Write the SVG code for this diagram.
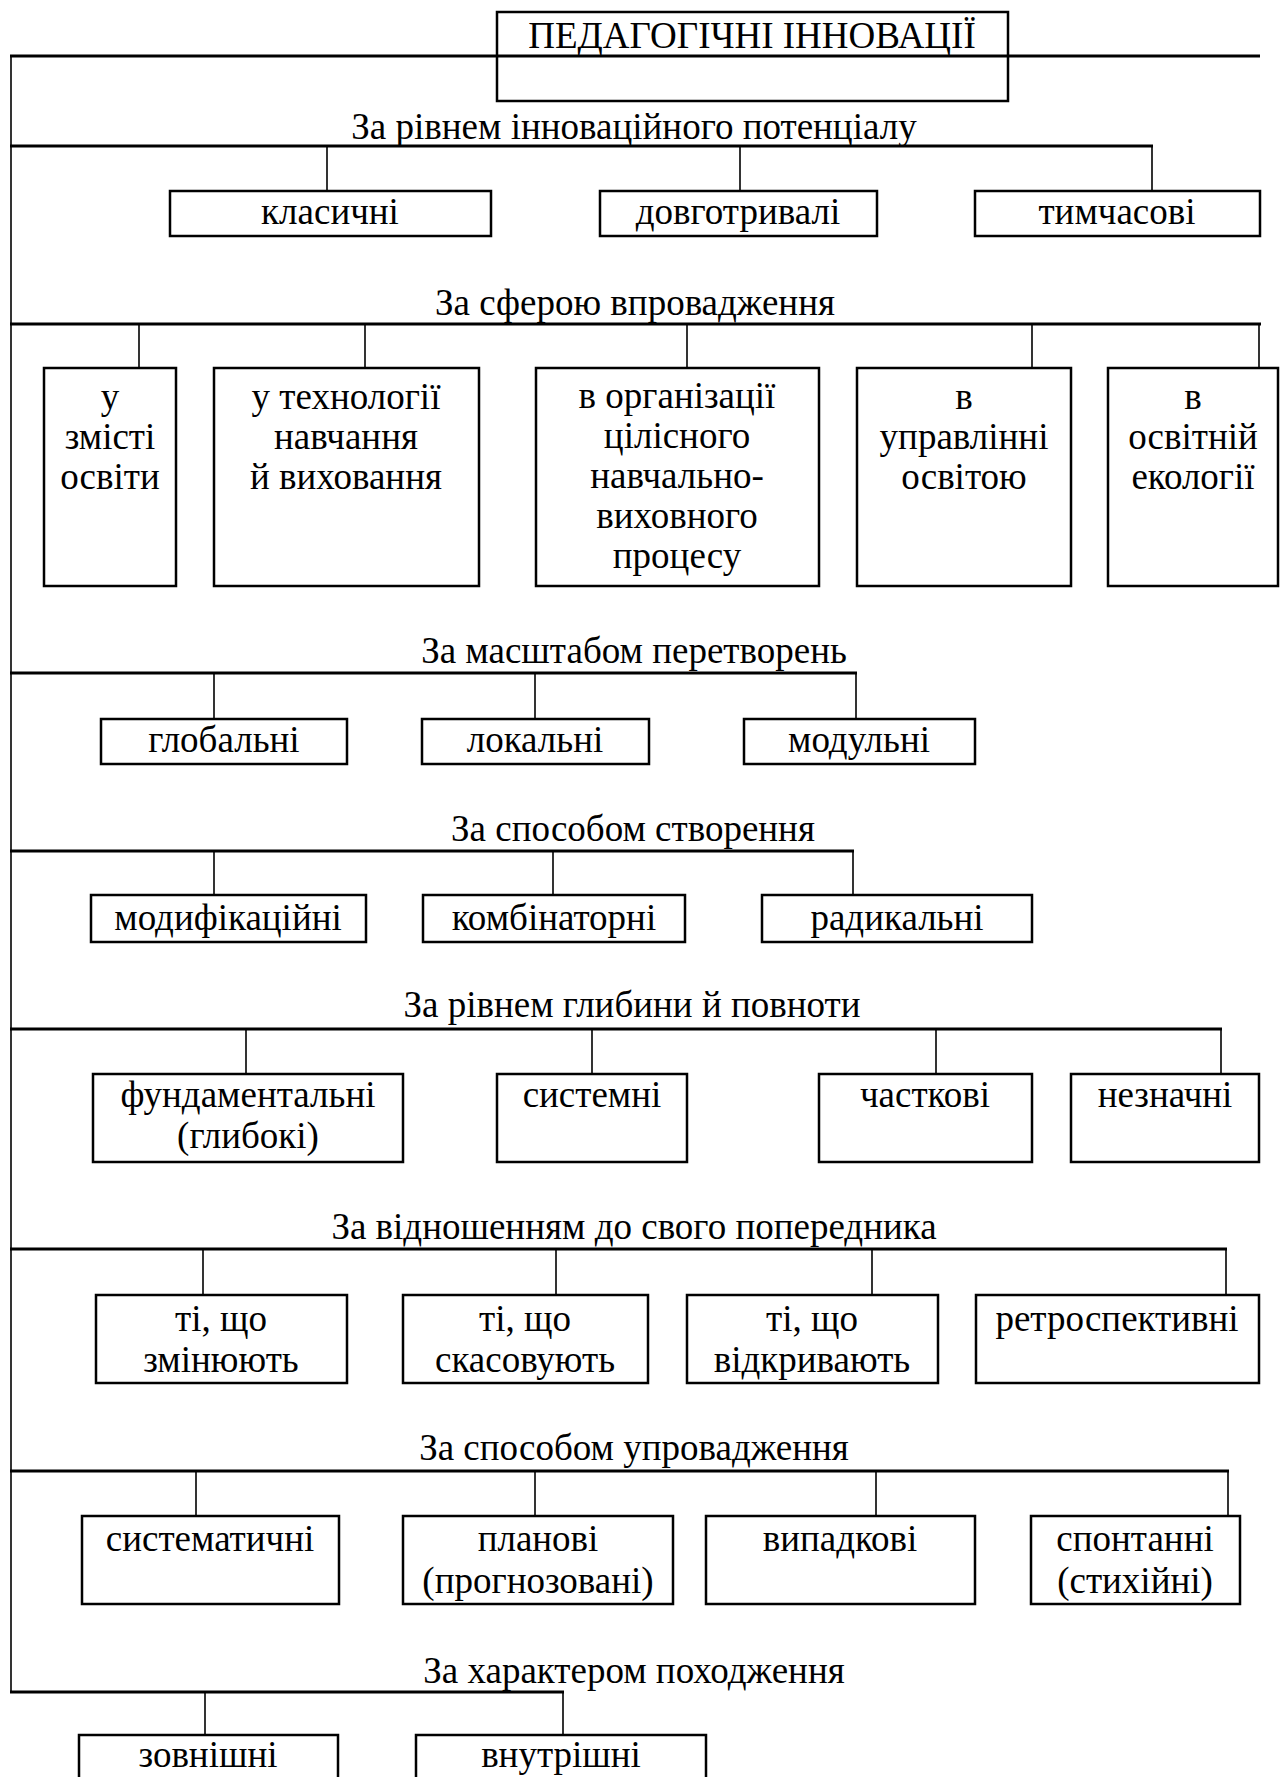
<svg xmlns="http://www.w3.org/2000/svg" width="1285" height="1777" viewBox="0 0 1285 1777">
<style>
  text { font-family: "Liberation Serif", "Times New Roman", serif; font-size: 37px; fill: #000; text-anchor: middle; }
  .box { fill: #fff; stroke: #000; stroke-width: 2.5; }
  .main { stroke: #000; stroke-width: 3; fill: none; }
  .drop { stroke: #000; stroke-width: 1.6; fill: none; }
</style>
<rect width="1285" height="1777" fill="#fff"/>

<g id="title">
  <rect class="box" x="497" y="12" width="511" height="89"/>
  <text x="752" y="48">ПЕДАГОГІЧНІ ІННОВАЦІЇ</text>
</g>

<g id="connectors">
  <line class="main" x1="10" y1="56" x2="1260" y2="56"/>
  <line class="drop" x1="11" y1="56" x2="11" y2="1692"/>
  <!-- level 1 -->
  <line class="main" x1="10" y1="146" x2="1153" y2="146"/>
  <line class="drop" x1="327" y1="146" x2="327" y2="191"/>
  <line class="drop" x1="740" y1="146" x2="740" y2="191"/>
  <line class="drop" x1="1152" y1="146" x2="1152" y2="191"/>
  <!-- level 2 -->
  <line class="main" x1="10" y1="324" x2="1261" y2="324"/>
  <line class="drop" x1="139" y1="324" x2="139" y2="368"/>
  <line class="drop" x1="365" y1="324" x2="365" y2="368"/>
  <line class="drop" x1="687" y1="324" x2="687" y2="368"/>
  <line class="drop" x1="1032" y1="324" x2="1032" y2="368"/>
  <line class="drop" x1="1259" y1="324" x2="1259" y2="368"/>
  <!-- level 3 -->
  <line class="main" x1="10" y1="673" x2="857" y2="673"/>
  <line class="drop" x1="214" y1="673" x2="214" y2="719"/>
  <line class="drop" x1="535" y1="673" x2="535" y2="719"/>
  <line class="drop" x1="856" y1="673" x2="856" y2="719"/>
  <!-- level 4 -->
  <line class="main" x1="10" y1="851" x2="854" y2="851"/>
  <line class="drop" x1="214" y1="851" x2="214" y2="895"/>
  <line class="drop" x1="553" y1="851" x2="553" y2="895"/>
  <line class="drop" x1="853" y1="851" x2="853" y2="895"/>
  <!-- level 5 -->
  <line class="main" x1="10" y1="1029" x2="1222" y2="1029"/>
  <line class="drop" x1="246" y1="1029" x2="246" y2="1074"/>
  <line class="drop" x1="592" y1="1029" x2="592" y2="1074"/>
  <line class="drop" x1="936" y1="1029" x2="936" y2="1074"/>
  <line class="drop" x1="1221" y1="1029" x2="1221" y2="1074"/>
  <!-- level 6 -->
  <line class="main" x1="10" y1="1249" x2="1227" y2="1249"/>
  <line class="drop" x1="203" y1="1249" x2="203" y2="1295"/>
  <line class="drop" x1="556" y1="1249" x2="556" y2="1295"/>
  <line class="drop" x1="872" y1="1249" x2="872" y2="1295"/>
  <line class="drop" x1="1226" y1="1249" x2="1226" y2="1295"/>
  <!-- level 7 -->
  <line class="main" x1="10" y1="1471" x2="1229" y2="1471"/>
  <line class="drop" x1="196" y1="1471" x2="196" y2="1516"/>
  <line class="drop" x1="535" y1="1471" x2="535" y2="1516"/>
  <line class="drop" x1="876" y1="1471" x2="876" y2="1516"/>
  <line class="drop" x1="1228" y1="1471" x2="1228" y2="1516"/>
  <!-- level 8 -->
  <line class="main" x1="10" y1="1692" x2="564" y2="1692"/>
  <line class="drop" x1="205" y1="1692" x2="205" y2="1735"/>
  <line class="drop" x1="563" y1="1692" x2="563" y2="1735"/>
</g>

<g id="cat1"><text x="634" y="139">За рівнем інноваційного потенціалу</text></g>
<g id="n-klasychni"><rect class="box" x="170" y="191" width="321" height="45"/><text x="330" y="224">класичні</text></g>
<g id="n-dovhotryvali"><rect class="box" x="600" y="191" width="277" height="45"/><text x="738" y="224">довготривалі</text></g>
<g id="n-tymchasovi"><rect class="box" x="975" y="191" width="285" height="45"/><text x="1117" y="224">тимчасові</text></g>

<g id="cat2"><text x="635" y="315">За сферою впровадження</text></g>
<g id="n-zmist"><rect class="box" x="44" y="368" width="132" height="218"/>
  <text x="110" y="409">у</text><text x="110" y="449">змісті</text><text x="110" y="489">освіти</text></g>
<g id="n-tekhnolohii"><rect class="box" x="214" y="368" width="265" height="218"/>
  <text x="346" y="409">у технології</text><text x="346" y="449">навчання</text><text x="346" y="489">й виховання</text></g>
<g id="n-orhanizatsii"><rect class="box" x="536" y="368" width="283" height="218"/>
  <text x="677" y="408">в організації</text><text x="677" y="448">цілісного</text><text x="677" y="488">навчально-</text><text x="677" y="528">виховного</text><text x="677" y="568">процесу</text></g>
<g id="n-upravlinni"><rect class="box" x="857" y="368" width="214" height="218"/>
  <text x="964" y="409">в</text><text x="964" y="449">управлінні</text><text x="964" y="489">освітою</text></g>
<g id="n-ekolohii"><rect class="box" x="1108" y="368" width="170" height="218"/>
  <text x="1193" y="409">в</text><text x="1193" y="449">освітній</text><text x="1193" y="489">екології</text></g>

<g id="cat3"><text x="634" y="663">За масштабом перетворень</text></g>
<g id="n-hlobalni"><rect class="box" x="101" y="719" width="246" height="45"/><text x="224" y="752">глобальні</text></g>
<g id="n-lokalni"><rect class="box" x="422" y="719" width="227" height="45"/><text x="535" y="752">локальні</text></g>
<g id="n-modulni"><rect class="box" x="744" y="719" width="231" height="45"/><text x="859" y="752">модульні</text></g>

<g id="cat4"><text x="633" y="841">За способом створення</text></g>
<g id="n-modyfikatsiini"><rect class="box" x="91" y="895" width="275" height="47"/><text x="228" y="930">модифікаційні</text></g>
<g id="n-kombinatorni"><rect class="box" x="423" y="895" width="262" height="47"/><text x="554" y="930">комбінаторні</text></g>
<g id="n-radykalni"><rect class="box" x="762" y="895" width="270" height="47"/><text x="897" y="930">радикальні</text></g>

<g id="cat5"><text x="632" y="1017">За рівнем глибини й повноти</text></g>
<g id="n-fundamentalni"><rect class="box" x="93" y="1074" width="310" height="88"/>
  <text x="248" y="1107">фундаментальні</text><text x="248" y="1148">(глибокі)</text></g>
<g id="n-systemni"><rect class="box" x="497" y="1074" width="190" height="88"/><text x="592" y="1107">системні</text></g>
<g id="n-chastkovi"><rect class="box" x="819" y="1074" width="213" height="88"/><text x="925" y="1107">часткові</text></g>
<g id="n-neznachni"><rect class="box" x="1071" y="1074" width="188" height="88"/><text x="1165" y="1107">незначні</text></g>

<g id="cat6"><text x="634" y="1239">За відношенням до свого попередника</text></g>
<g id="n-zminiuiut"><rect class="box" x="96" y="1295" width="251" height="88"/>
  <text x="221" y="1331">ті, що</text><text x="221" y="1372">змінюють</text></g>
<g id="n-skasovuiut"><rect class="box" x="403" y="1295" width="245" height="88"/>
  <text x="525" y="1331">ті, що</text><text x="525" y="1372">скасовують</text></g>
<g id="n-vidkryvaiut"><rect class="box" x="687" y="1295" width="251" height="88"/>
  <text x="812" y="1331">ті, що</text><text x="812" y="1372">відкривають</text></g>
<g id="n-retrospektyvni"><rect class="box" x="976" y="1295" width="283" height="88"/><text x="1117" y="1331">ретроспективні</text></g>

<g id="cat7"><text x="634" y="1460">За способом упровадження</text></g>
<g id="n-systematychni"><rect class="box" x="82" y="1516" width="257" height="88"/><text x="210" y="1551">систематичні</text></g>
<g id="n-planovi"><rect class="box" x="403" y="1516" width="270" height="88"/>
  <text x="538" y="1551">планові</text><text x="538" y="1593">(прогнозовані)</text></g>
<g id="n-vypadkovi"><rect class="box" x="706" y="1516" width="269" height="88"/><text x="840" y="1551">випадкові</text></g>
<g id="n-spontanni"><rect class="box" x="1031" y="1516" width="209" height="88"/>
  <text x="1135" y="1551">спонтанні</text><text x="1135" y="1593">(стихійні)</text></g>

<g id="cat8"><text x="634" y="1683">За характером походження</text></g>
<g id="n-zovnishni"><rect class="box" x="79" y="1735" width="259" height="80"/><text x="208" y="1767">зовнішні</text></g>
<g id="n-vnutrishni"><rect class="box" x="416" y="1735" width="290" height="80"/><text x="561" y="1767">внутрішні</text></g>
</svg>
